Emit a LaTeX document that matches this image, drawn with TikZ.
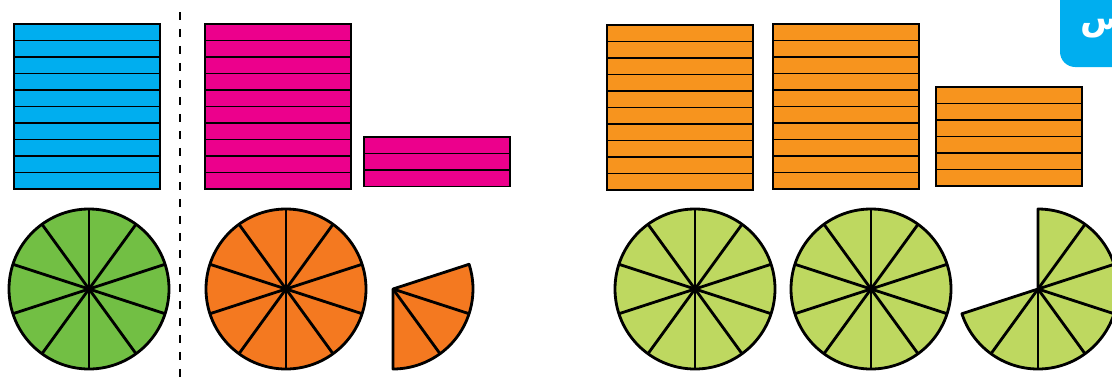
\documentclass[tikz,border=0pt]{standalone}
\usepackage{fontspec}
\newfontfamily\arabicfont[Script=Arabic]{DejaVu Sans}
\TeXXeTstate=1
\usetikzlibrary{positioning}
\definecolor{stackblue}{RGB}{0,174,239}
\definecolor{stackpink}{RGB}{236,0,140}
\definecolor{stackorange}{RGB}{247,148,30}
\definecolor{pieorange}{RGB}{244,121,32}
\definecolor{piegreen}{RGB}{114,191,68}
\definecolor{pielime}{RGB}{190,216,96}
\definecolor{badgeblue}{RGB}{0,174,239}
\tikzset{
  strip/.style={draw=black,line width=0.9pt},
  stackframe/.style={draw=black,line width=1.4pt},
  wedge/.style={draw=black,line width=2.4pt,line join=round},
  divider/.style={draw=black,line width=1.6pt,dash pattern=on 7pt off 7.5pt}
}

\begin{document}
\begin{tikzpicture}[x=0.03cm,y=-0.03cm]
\useasboundingbox (0,0) rectangle (1112,382);
\clip (0,0) rectangle (1112,382);

% badge
\fill[badgeblue,rounded corners=13pt] (1060,-30) rectangle (1150,67);
\node[anchor=west,inner sep=0pt,text=white,font=\arabicfont\bfseries\fontsize{30}{30}\selectfont] (badge) at (1080,27) {\beginR س\endR};

% divider
\draw[divider] (180,12) -- (180,382);

% strip stacks
\foreach \x/\y/\n/\c in {14/24/10/stackblue, 205/24/10/stackpink, 364/137/3/stackpink,
                         607/25/10/stackorange, 773/24/10/stackorange, 936/87/6/stackorange} {
    \foreach \k in {1,...,\n}
        \draw[strip,fill=\c] (\x,{\y+(\k-1)*16.5}) rectangle ++(146,16.5);
    \draw[stackframe] (\x,\y) rectangle ++(146,{\n*16.5});
}

% whole pies
\foreach \cx/\c in {89/piegreen, 286/pieorange, 695/pielime, 871/pielime} {
    \fill[\c] (\cx,289) circle (80);
    \foreach \a in {18,54,...,342}
        \draw[wedge] (\cx,289) -- ++(\a:80);
    \draw[wedge] (\cx,289) circle (80);
}

% part pies
\draw[wedge,fill=pieorange] (393,289) -- ++(-18:80) arc (-18:90:80) -- cycle;
\foreach \a in {18,54}
    \draw[wedge] (393,289) -- ++(\a:80);
\draw[wedge,fill=pielime] (1038,289) -- ++(-90:80) arc (-90:162:80) -- cycle;
\foreach \a in {-54,-18,...,126}
    \draw[wedge] (1038,289) -- ++(\a:80);
\end{tikzpicture}
\end{document}
